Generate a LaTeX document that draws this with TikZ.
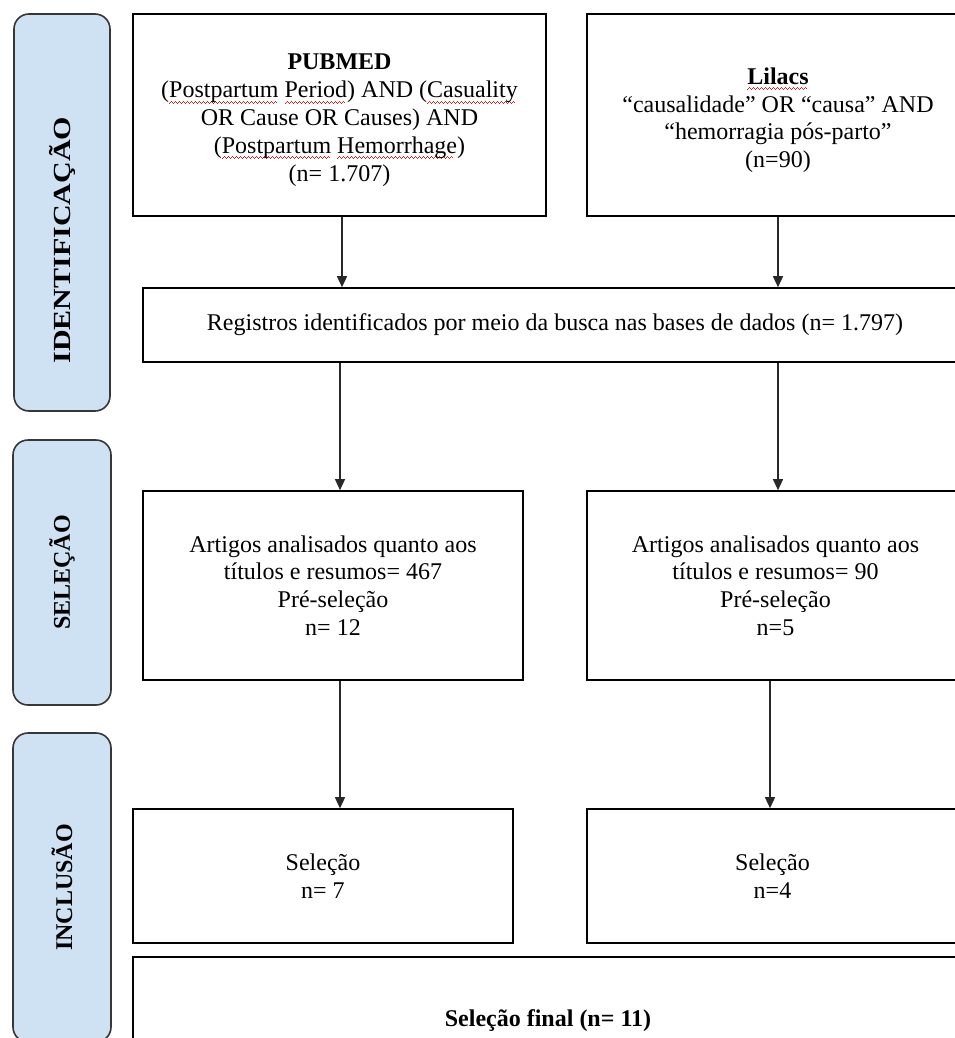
\documentclass[tikz,border=0pt]{standalone}
\usepackage{fontspec}
\setmainfont{Liberation Serif}
\usetikzlibrary{arrows.meta}
\definecolor{lblue}{RGB}{207,226,243}
\definecolor{lborder}{RGB}{55,55,55}
\definecolor{arrgray}{RGB}{40,40,40}
\definecolor{wavered}{RGB}{225,30,30}
\newcommand\wavecell{\rule[-6pt]{1pt}{0.9pt}\rule[-5pt]{1pt}{0.9pt}\rule[-4pt]{1pt}{0.9pt}\rule[-5pt]{1pt}{0.9pt}}
\newcommand\sq[1]{\setbox0\hbox{#1}\rlap{\smash{\color{wavered}\hbox to \wd0{\leaders\hbox{\wavecell}\hfill}}}\box0\relax}
\begin{document}
\begin{tikzpicture}[x=1pt,y=-1pt,
  box/.style={draw=black, line width=1.6pt, align=center, inner sep=0pt,
    font=\fontsize{24}{27.8}\selectfont},
  lab/.style={draw=lborder, fill=lblue, rounded corners=15pt, line width=1.6pt,
    inner sep=0pt},
  labtext/.style={rotate=90, inner sep=0pt, font=\fontsize{24}{27.6}\selectfont\bfseries},
  arr/.style={-{Triangle[length=11pt,width=10pt]}, line width=1.3pt, draw=arrgray}]
\useasboundingbox (0,0) rectangle (955,1038);
\clip (0,0) rectangle (955,1038);
% phase labels
\node[lab, minimum width=96, minimum height=397] (idl) at (62,212.5) {};
\node[labtext, font=\fontsize{30}{32}\selectfont\bfseries] (idt) at (62,240) {\scalebox{1}[0.82]{IDENTIFICAÇÃO}};
\node[lab, minimum width=98, minimum height=265] (sel) at (62,572.5) {};
\node[labtext] (selt) at (62,572.5) {SELEÇÃO};
\node[lab, minimum width=98, minimum height=309] (inc) at (62,887.5) {};
\node[labtext] (inct) at (62,887.5) {INCLUSÃO};
% boxes
\node[box, minimum width=413, minimum height=202] (pub) at (339.5,115)
  {\rule{0pt}{26pt}\textbf{PUBMED}\\(\sq{Postpartum} \sq{Period}) AND (\sq{Casuality}\\OR Cause OR Causes) AND\\(\sq{Postpartum} \sq{Hemorrhage})\\(n= 1.707)};
\node[box, minimum width=382, minimum height=202] (lil) at (778,115)
  {\rule{0pt}{27pt}\textbf{\sq{Lilacs}}\\“causalidade” OR “causa” AND\\“hemorragia pós-parto”\\(n=90)};
\node[box, minimum width=824, minimum height=74] (reg) at (555,325)
  {Registros identificados por meio da busca nas bases de dados (n= 1.797)};
\node[box, minimum width=380, minimum height=189] (artL) at (333,585.5)
  {Artigos analisados quanto aos\\títulos e resumos= 467\\Pré-seleção\\n= 12};
\node[box, minimum width=377, minimum height=189] (artR) at (775.5,585.5)
  {Artigos analisados quanto aos\\títulos e resumos= 90\\Pré-seleção\\n=5};
\node[box, minimum width=380, minimum height=134] (selL) at (323,876)
  {Seleção\\n= 7};
\node[box, minimum width=371, minimum height=134] (selR) at (772.5,876)
  {Seleção\\n=4};
\node[box, minimum width=830, minimum height=128] (fin) at (548,1021)
  {\textbf{Seleção final (n= 11)}};
% connectors
\draw[arr] ([xshift=2.5]pub.south) -- ([xshift=2.5]pub.south |- reg.north);
\draw[arr] (lil.south) -- (lil.south |- reg.north);
\draw[arr] ([xshift=7]artL.north |- reg.south) -- ([xshift=7]artL.north);
\draw[arr] ([xshift=2.5]artR.north |- reg.south) -- ([xshift=2.5]artR.north);
\draw[arr] ([xshift=7]artL.south) -- ([xshift=7]artL.south |- selL.north);
\draw[arr] ([xshift=-5.5]artR.south) -- ([xshift=-5.5]artR.south |- selR.north);
\end{tikzpicture}
\end{document}
